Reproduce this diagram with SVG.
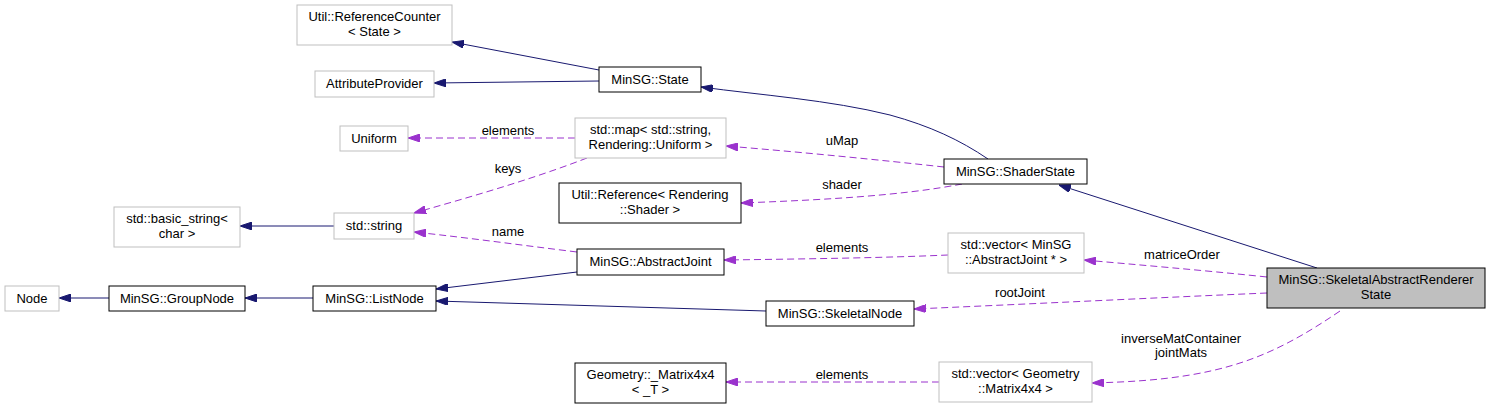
<svg xmlns="http://www.w3.org/2000/svg" width="1491" height="408" viewBox="0 0 1491 408">
<style>
text{font-family:"Liberation Sans",Arial,sans-serif;font-size:13px;fill:#000;text-anchor:middle}
.n rect{fill:#fff;stroke:#000;stroke-width:1}
.g rect{fill:#fff;stroke:#bfbfbf;stroke-width:1}
.inh{fill:none;stroke:#191970;stroke-width:1;marker-end:url(#an)}
.use{fill:none;stroke:#9a32cd;stroke-width:1;stroke-dasharray:7,4;marker-end:url(#ap)}
</style>
<defs>
<marker id="an" viewBox="0 0 12 8" refX="12" refY="4" markerWidth="12" markerHeight="8" markerUnits="userSpaceOnUse" orient="auto"><path d="M0,0 L12,4 L0,8 z" fill="#191970" stroke="#191970"/></marker>
<marker id="ap" viewBox="0 0 12 8" refX="12" refY="4" markerWidth="12" markerHeight="8" markerUnits="userSpaceOnUse" orient="auto"><path d="M0,0 L12,4 L0,8 z" fill="#9a32cd" stroke="#9a32cd"/></marker>
</defs>
<rect width="1491" height="408" fill="#fff"/>
<g id="connectors">
<path class="inh" d="M599,70 L452,42"/>
<path class="inh" d="M599,81 L434,83"/>
<path class="inh" d="M988,159 C960,140 930,126 890,115 C830,100 760,95 701,87"/>
<path class="inh" d="M1317,268 L1059,185"/>
<path class="inh" d="M109,298 L59,298"/>
<path class="inh" d="M313,298 L245,298"/>
<path class="inh" d="M577,272 L436,289"/>
<path class="inh" d="M766,311 L436,301"/>
<path class="inh" d="M334,226 L240,226"/>
<path class="use" d="M575,138 L408,138"/>
<text x="508" y="135">elements</text>
<path class="use" d="M944,167 C880,160 800,152 726,146"/>
<text x="842" y="145">uMap</text>
<path class="use" d="M587,158 C530,180 470,197 414,213"/>
<text x="508" y="173">keys</text>
<path class="use" d="M962,184 C900,196 820,200 741,203"/>
<text x="842" y="189">shader</text>
<path class="use" d="M577,252 C520,245 470,238 414,232"/>
<text x="508" y="236">name</text>
<path class="use" d="M948,255 C880,258 800,259 724,260"/>
<text x="842" y="252">elements</text>
<path class="use" d="M1267,277 C1200,270 1140,265 1084,260"/>
<text x="1182" y="259">matriceOrder</text>
<path class="use" d="M1267,293 C1150,298 1030,304 914,309"/>
<text x="1020" y="297">rootJoint</text>
<path class="use" d="M1340,311 C1290,345 1250,365 1190,375 C1160,380 1130,382 1092,383"/>
<text x="1181" y="343">inverseMatContainer</text>
<text x="1181" y="357">jointMats</text>
<path class="use" d="M939,382 L726,382"/>
<text x="842" y="379">elements</text>
</g>
<g id="refcounter" class="g"><rect x="297" y="5" width="155" height="40"/><text x="374.5" y="21">Util::ReferenceCounter</text><text x="374.5" y="35.5">&lt; State &gt;</text></g>
<g id="attributeprovider" class="g"><rect x="315" y="71" width="119" height="26"/><text x="374.5" y="88">AttributeProvider</text></g>
<g id="uniform" class="g"><rect x="340" y="126" width="68" height="25"/><text x="374" y="143">Uniform</text></g>
<g id="state" class="n"><rect x="599" y="67" width="102" height="25"/><text x="650" y="84">MinSG::State</text></g>
<g id="stdmap" class="g"><rect x="575" y="118" width="151" height="40"/><text x="650.5" y="134">std::map&lt; std::string,</text><text x="650.5" y="148.5">Rendering::Uniform &gt;</text></g>
<g id="shaderstate" class="n"><rect x="944" y="159" width="143" height="25"/><text x="1015.5" y="176">MinSG::ShaderState</text></g>
<g id="utilreference" class="n"><rect x="559" y="183" width="182" height="40"/><text x="650" y="199">Util::Reference&lt; Rendering</text><text x="650" y="213.5">::Shader &gt;</text></g>
<g id="basicstring" class="g"><rect x="114" y="207" width="126" height="40"/><text x="177" y="223">std::basic_string&lt;</text><text x="177" y="237.5">char &gt;</text></g>
<g id="stdstring" class="g"><rect x="334" y="213" width="80" height="26"/><text x="374" y="230">std::string</text></g>
<g id="node" class="g"><rect x="5" y="286" width="54" height="25"/><text x="32" y="303">Node</text></g>
<g id="groupnode" class="n"><rect x="109" y="286" width="136" height="25"/><text x="177" y="303">MinSG::GroupNode</text></g>
<g id="listnode" class="n"><rect x="313" y="286" width="123" height="25"/><text x="374.5" y="303">MinSG::ListNode</text></g>
<g id="abstractjoint" class="n"><rect x="577" y="249" width="147" height="26"/><text x="650.5" y="266">MinSG::AbstractJoint</text></g>
<g id="skeletalnode" class="n"><rect x="766" y="301" width="148" height="25"/><text x="840" y="318">MinSG::SkeletalNode</text></g>
<g id="matrix4x4" class="n"><rect x="575" y="363" width="151" height="40"/><text x="650.5" y="379">Geometry::_Matrix4x4</text><text x="650.5" y="393.5">&lt; _T &gt;</text></g>
<g id="vecjoint" class="g"><rect x="948" y="233" width="136" height="40"/><text x="1016" y="249">std::vector&lt; MinSG</text><text x="1016" y="263.5">::AbstractJoint * &gt;</text></g>
<g id="vecmatrix" class="g"><rect x="939" y="362" width="153" height="40"/><text x="1015.5" y="378">std::vector&lt; Geometry</text><text x="1015.5" y="392.5">::Matrix4x4 &gt;</text></g>
<g id="skeletalstate"><rect x="1267" y="268" width="218" height="40" fill="#bfbfbf" stroke="#000"/><text x="1376" y="284">MinSG::SkeletalAbstractRenderer</text><text x="1376" y="298.5">State</text></g>
</svg>
